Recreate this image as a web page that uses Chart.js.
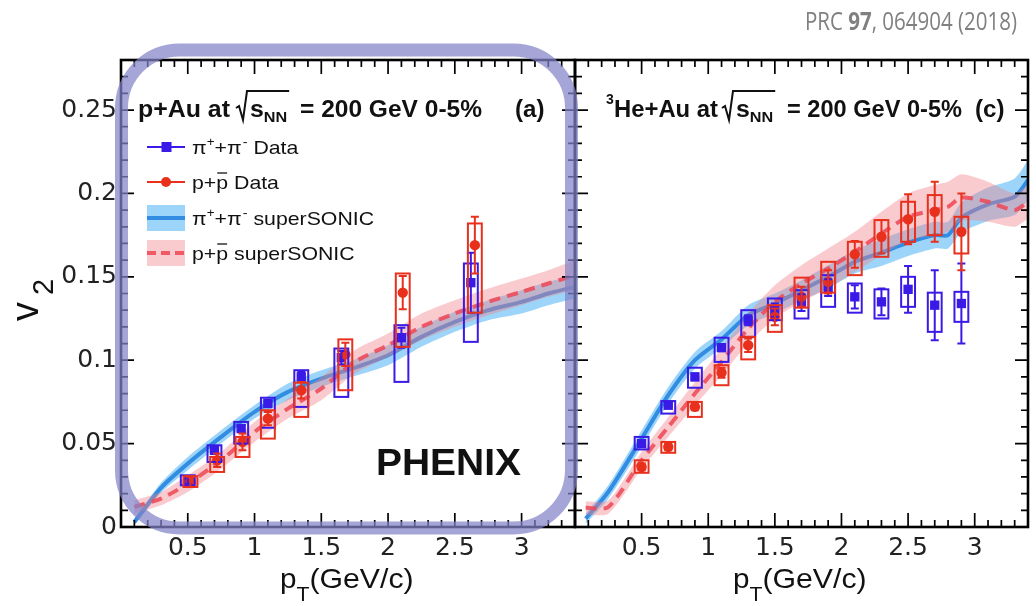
<!DOCTYPE html>
<html><head><meta charset="utf-8">
<script src="https://cdn.jsdelivr.net/npm/chart.js@4.4.1/dist/chart.umd.min.js"></script>
<style>
html,body{margin:0;padding:0;background:#fff;}
#wrap{position:relative;width:1036px;height:606px;background:#fff;overflow:hidden}
canvas{position:absolute;left:0;top:0}
</style></head><body>
<div id="wrap"><canvas id="cR" width="1036" height="606"></canvas><canvas id="cL" width="1036" height="606"></canvas></div>
<script>
// ---------- axis ticks ----------
const xTickVals = [0.5, 1, 1.5, 2, 2.5, 3];
const xTickLabels = ['0.5', '1', '1.5', '2', '2.5', '3'];
const yTickVals = [0, 0.05, 0.1, 0.15, 0.2, 0.25];
const yTickLabels = ['0', '0.05', '0.1', '0.15', '0.2', '0.25'];

// ---------- p+Au (a) data ----------
const pA_piX     = [0.50, 0.70, 0.90, 1.10, 1.35, 1.65, 2.10, 2.62];
const pA_piV     = [0.028, 0.046, 0.059, 0.074, 0.090, 0.1015, 0.1135, 0.1465];
const pA_piStat  = [0.002, 0.002, 0.002, 0.002, 0.003, 0.004, 0.006, 0.018];
const pA_piSysLo = [0.025, 0.039, 0.050, 0.0595, 0.072, 0.078, 0.087, 0.111];
const pA_piSysHi = [0.031, 0.049, 0.063, 0.0775, 0.094, 0.107, 0.121, 0.158];

const pA_pX      = [0.52, 0.72, 0.91, 1.10, 1.35, 1.68, 2.11, 2.65];
const pA_pV      = [0.027, 0.040, 0.051, 0.065, 0.082, 0.1035, 0.1405, 0.169];
const pA_pStat   = [0.003, 0.004, 0.005, 0.004, 0.005, 0.007, 0.010, 0.017];
const pA_pSysLo  = [0.024, 0.033, 0.042, 0.053, 0.066, 0.082, 0.108, 0.1285];
const pA_pSysHi  = [0.0305, 0.042, 0.054, 0.070, 0.0865, 0.1125, 0.152, 0.182];

// superSONIC (a)
const pA_modX    = [0.1, 0.3, 0.5, 0.75, 1.0, 1.25, 1.5, 1.75, 2.0, 2.25, 2.5, 2.75, 3.0, 3.2, 3.4];
const pA_piMod   = [0.003, 0.0235, 0.038, 0.054, 0.069, 0.081, 0.089, 0.0955, 0.103, 0.114, 0.123, 0.130, 0.135, 0.140, 0.144];
const pA_piHW    = [0.002, 0.003, 0.004, 0.004, 0.004, 0.005, 0.005, 0.005, 0.006, 0.006, 0.006, 0.006, 0.007, 0.007, 0.007];
const pA_pMod    = [0.012, 0.017, 0.026, 0.040, 0.057, 0.071, 0.083, 0.099, 0.109, 0.120, 0.128, 0.135, 0.141, 0.146, 0.151];
const pA_pHW     = [0.004, 0.004, 0.005, 0.005, 0.006, 0.006, 0.007, 0.007, 0.007, 0.008, 0.008, 0.008, 0.008, 0.008, 0.009];

// ---------- 3He+Au (c) data ----------
const hA_piX     = [0.5, 0.7, 0.9, 1.1, 1.3, 1.5, 1.7, 1.9, 2.1, 2.3, 2.5, 2.7, 2.9];
const hA_piV     = [0.050, 0.073, 0.090, 0.1075, 0.124, 0.130, 0.1345, 0.1435, 0.138, 0.135, 0.1425, 0.133, 0.134];
const hA_piStat  = [0.001, 0.001, 0.002, 0.002, 0.003, 0.004, 0.005, 0.005, 0.007, 0.008, 0.014, 0.021, 0.024];
const hA_piSysLo = [0.0465, 0.068, 0.0835, 0.099, 0.114, 0.124, 0.125, 0.132, 0.1285, 0.125, 0.132, 0.117, 0.123];
const hA_piSysHi = [0.054, 0.0755, 0.0955, 0.1135, 0.130, 0.137, 0.142, 0.151, 0.146, 0.1425, 0.150, 0.1405, 0.141];

const hA_pX      = [0.5, 0.7, 0.9, 1.1, 1.3, 1.5, 1.7, 1.9, 2.1, 2.3, 2.5, 2.7, 2.9];
const hA_pV      = [0.036, 0.048, 0.072, 0.0925, 0.109, 0.126, 0.138, 0.147, 0.1635, 0.174, 0.1845, 0.189, 0.177];
const hA_pStat   = [0.002, 0.002, 0.002, 0.003, 0.004, 0.005, 0.006, 0.007, 0.008, 0.010, 0.015, 0.018, 0.023];
const hA_pSysLo  = [0.0325, 0.0445, 0.066, 0.085, 0.1005, 0.117, 0.1315, 0.1405, 0.151, 0.162, 0.171, 0.175, 0.164];
const hA_pSysHi  = [0.040, 0.051, 0.075, 0.097, 0.114, 0.133, 0.1495, 0.159, 0.171, 0.184, 0.195, 0.199, 0.186];

// superSONIC (c)
const hA_modX    = [0.08, 0.25, 0.5, 0.7, 0.9, 1.1, 1.3, 1.5, 1.7, 1.9, 2.1, 2.3, 2.5, 2.7, 2.8, 2.9, 3.1, 3.3, 3.4];
const hA_piMod   = [0.005, 0.021, 0.053, 0.079, 0.100, 0.1125, 0.127, 0.134, 0.142, 0.150, 0.159, 0.1645, 0.1705, 0.175, 0.175, 0.1855, 0.1935, 0.198, 0.208];
const hA_piHW    = [0.003, 0.004, 0.005, 0.005, 0.005, 0.005, 0.006, 0.006, 0.006, 0.007, 0.007, 0.008, 0.008, 0.008, 0.008, 0.009, 0.010, 0.011, 0.012];
const hA_pMod    = [0.0115, 0.012, 0.040, 0.060, 0.080, 0.099, 0.119, 0.135, 0.146, 0.155, 0.165, 0.176, 0.186, 0.190, 0.192, 0.1975, 0.195, 0.190, 0.195];
const hA_pHW     = [0.004, 0.004, 0.005, 0.006, 0.007, 0.008, 0.009, 0.010, 0.011, 0.012, 0.012, 0.013, 0.014, 0.015, 0.015, 0.014, 0.012, 0.010, 0.010];

// ---------- styles ----------
const C_PI = '#3a1ae6', C_P = '#e8301c';
const C_PI_LINE = 'rgb(50,140,225)', C_PI_BAND = 'rgba(90,185,245,0.6)';
const C_P_LINE = 'rgba(238,70,85,0.85)', C_P_BAND = 'rgba(240,130,140,0.42)';
const SANS = '"Liberation Sans", Arial, Helvetica, sans-serif';

function pts(xs, ys) { return xs.map((x, i) => ({ x: x, y: ys[i] })); }

function T(ctx, s, x, y, size, o) {
  o = o || {};
  ctx.save();
  ctx.font = (o.bold ? 'bold ' : '') + size + 'px ' + (o.family || SANS);
  ctx.fillStyle = o.color || '#111';
  ctx.textBaseline = 'alphabetic'; ctx.textAlign = 'left';
  let sx = o.sx || 1;
  const w0 = ctx.measureText(s).width;
  if (o.fit) sx = o.fit / w0;
  ctx.translate(x, y); ctx.scale(sx, 1); ctx.fillText(s, 0, 0);
  ctx.restore();
  return x + w0 * sx;
}

function drawSeries(ctx, sx, sy, xs, ys, stat, lo, hi, color) {
  ctx.save();
  ctx.strokeStyle = color; ctx.lineWidth = 2;
  xs.forEach((x, i) => {
    const px = sx.getPixelForValue(x);
    const x0 = sx.getPixelForValue(x - 0.052), x1 = sx.getPixelForValue(x + 0.052);
    const yl = sy.getPixelForValue(lo[i]), yh = sy.getPixelForValue(hi[i]);
    ctx.strokeRect(x0, yh, x1 - x0, yl - yh);
    const e0 = sy.getPixelForValue(ys[i] - stat[i]), e1 = sy.getPixelForValue(ys[i] + stat[i]);
    ctx.beginPath();
    ctx.moveTo(px, e0); ctx.lineTo(px, e1);
    ctx.moveTo(px - 4, e0); ctx.lineTo(px + 4, e0);
    ctx.moveTo(px - 4, e1); ctx.lineTo(px + 4, e1);
    ctx.stroke();
  });
  ctx.restore();
}

function drawFrame(chart) {
  const ctx = chart.ctx, a = chart.chartArea, x = chart.scales.x, y = chart.scales.y;
  ctx.save();
  ctx.strokeStyle = '#000'; ctx.lineWidth = 1.7;
  ctx.beginPath();
  for (let k = 0; k <= 34; k++) {
    const px = x.getPixelForValue(k / 10);
    const L = (k % 5 === 0) ? 14 : 7;
    ctx.moveTo(px, a.bottom); ctx.lineTo(px, a.bottom - L);
    ctx.moveTo(px, a.top); ctx.lineTo(px, a.top + L);
  }
  for (let k = 0; k <= 28; k++) {
    const py = y.getPixelForValue(k / 100);
    const L = (k % 5 === 0) ? 13 : 7;
    ctx.moveTo(a.left, py); ctx.lineTo(a.left + L, py);
    ctx.moveTo(a.right, py); ctx.lineTo(a.right - L, py);
  }
  ctx.stroke();
  ctx.lineWidth = 2.6;
  ctx.strokeRect(a.left, a.top, a.right - a.left, a.bottom - a.top);
  ctx.restore();
}

function radical(ctx, x, base, endX) {
  ctx.save(); ctx.strokeStyle = '#111'; ctx.lineWidth = 2; ctx.lineJoin = 'miter';
  ctx.beginPath();
  ctx.moveTo(x, base - 9); ctx.lineTo(x + 3, base - 11);
  ctx.lineTo(x + 7, base + 3); ctx.lineTo(x + 11, base - 26); ctx.lineTo(endX, base - 26);
  ctx.stroke(); ctx.restore();
}

function panelLabel(ctx, L) {
  const base = 117, F = 23;
  T(ctx, L.prefix, L.px, base, F, { bold: 1, fit: L.pw });
  const s1 = T(ctx, 's', L.rx + 14, base, F, { bold: 1, sx: 1.08 });
  const nn = T(ctx, 'NN', s1, base + 5, 15, { bold: 1, sx: 1.08 });
  radical(ctx, L.rx, base, nn + 2);
  T(ctx, '= 200 GeV 0-5%', L.ex, base, F, { bold: 1, fit: L.ew });
  T(ctx, L.tag, L.tx, base, F, { bold: 1, sx: 1.05 });
}

function ySub(ctx) {
  ctx.save();
  ctx.translate(38, 321); ctx.rotate(-Math.PI / 2);
  ctx.fillStyle = '#111';
  ctx.font = '38px ' + SANS; ctx.fillText('v', 0, 0);
  ctx.font = '29px ' + SANS; ctx.fillText('2', 26, 15);
  ctx.restore();
}

function xTitle(ctx, x) {
  let xx = T(ctx, 'p', x, 588, 28, { sx: 1.06 });
  xx = T(ctx, 'T', xx, 601, 20, { sx: 1.06 });
  T(ctx, '(GeV/c)', xx, 588, 28, { sx: 1.08 });
}

function legendRows(ctx) {
  const x0 = 147, x1 = 185, tx = 192, S = 1.12, F = 19;
  const rows = [147, 182, 218, 253];
  ctx.save();
  ctx.strokeStyle = C_PI; ctx.lineWidth = 2;
  ctx.beginPath(); ctx.moveTo(x0, rows[0]); ctx.lineTo(x1, rows[0]); ctx.stroke();
  ctx.fillStyle = C_PI; ctx.fillRect(161.5, rows[0] - 5, 10, 10);
  ctx.strokeStyle = C_P;
  ctx.beginPath(); ctx.moveTo(x0, rows[1]); ctx.lineTo(x1, rows[1]); ctx.stroke();
  ctx.fillStyle = C_P; ctx.beginPath(); ctx.arc(166, rows[1], 5, 0, 2 * Math.PI); ctx.fill();
  ctx.fillStyle = C_PI_BAND; ctx.fillRect(x0, rows[2] - 13, x1 - x0, 26);
  ctx.strokeStyle = C_PI_LINE; ctx.lineWidth = 4;
  ctx.beginPath(); ctx.moveTo(x0, rows[2]); ctx.lineTo(x1, rows[2]); ctx.stroke();
  ctx.fillStyle = C_P_BAND; ctx.fillRect(x0, rows[3] - 13, x1 - x0, 26);
  ctx.strokeStyle = C_P_LINE; ctx.lineWidth = 4; ctx.setLineDash([9, 5]);
  ctx.beginPath(); ctx.moveTo(x0, rows[3]); ctx.lineTo(x1 + 1, rows[3]); ctx.stroke();
  ctx.restore();

  const piRuns = (b, tail) => {
    let xx = T(ctx, 'π', tx, b, F, { sx: S });
    xx = T(ctx, '+', xx, b - 8, 12, { sx: S });
    xx = T(ctx, '+π', xx, b, F, { sx: S });
    xx = T(ctx, '-', xx + 1, b - 8, 13, { sx: S });
    T(ctx, tail, xx, b, F, { sx: S });
  };
  const pRuns = (b, tail) => {
    let xx = T(ctx, 'p+', tx, b, F, { sx: S });
    const pb = xx;
    xx = T(ctx, 'p', xx, b, F, { sx: S });
    ctx.save(); ctx.strokeStyle = '#111'; ctx.lineWidth = 1.3;
    ctx.beginPath(); ctx.moveTo(pb + 1, b - 16); ctx.lineTo(xx - 1, b - 16); ctx.stroke(); ctx.restore();
    T(ctx, tail, xx, b, F, { sx: S });
  };
  piRuns(rows[0] + 7, ' Data');
  pRuns(rows[1] + 7, ' Data');
  piRuns(rows[2] + 7, ' superSONIC');
  pRuns(rows[3] + 7, ' superSONIC');
}

function prcText(ctx) {
  const F = '"Open Sans", "Liberation Sans", sans-serif';
  ctx.save();
  ctx.fillStyle = '#808080'; ctx.textBaseline = 'alphabetic';
  const parts = [['PRC ', ''], ['97', 'bold '], [', 064904 (2018)', '']];
  let w = 0;
  parts.forEach(p => { ctx.font = p[1] + '25px ' + F; w += ctx.measureText(p[0]).width; });
  const target = 212, sx = target / w;
  ctx.translate(1017 - target, 30); ctx.scale(sx, 1);
  let x = 0;
  parts.forEach(p => { ctx.font = p[1] + '25px ' + F; ctx.fillText(p[0], x, 0); x += ctx.measureText(p[0]).width; });
  ctx.restore();
}

function makeChart(id, P, isLeft) {
  const datasets = [];
  datasets.push({ data: pts(P.modX, P.piMod.map((v, i) => v - P.piHW[i])), borderWidth: 0, pointRadius: 0, fill: false, order: 10, tension: 0.25 });
  datasets.push({ data: pts(P.modX, P.piMod.map((v, i) => v + P.piHW[i])), borderWidth: 0, pointRadius: 0, fill: '-1', backgroundColor: C_PI_BAND, order: 10, tension: 0.25 });
  datasets.push({ data: pts(P.modX, P.piMod), borderColor: C_PI_LINE, borderWidth: 4, pointRadius: 0, fill: false, order: 8, tension: 0.25 });
  datasets.push({ data: pts(P.modX, P.pMod.map((v, i) => v - P.pHW[i])), borderWidth: 0, pointRadius: 0, fill: false, order: 6, tension: 0.25 });
  datasets.push({ data: pts(P.modX, P.pMod.map((v, i) => v + P.pHW[i])), borderWidth: 0, pointRadius: 0, fill: '-1', backgroundColor: C_P_BAND, order: 6, tension: 0.25 });
  datasets.push({ data: pts(P.modX, P.pMod), borderColor: C_P_LINE, borderWidth: 4, borderDash: [11, 7], pointRadius: 0, fill: false, order: 4, tension: 0.25 });
  datasets.push({ data: pts(P.piX, P.piV), showLine: false, pointStyle: 'rect', pointRadius: 6.6, pointBackgroundColor: C_PI, pointBorderWidth: 0, order: 1 });
  datasets.push({ data: pts(P.pX, P.pV), showLine: false, pointStyle: 'circle', pointRadius: 5.2, pointBackgroundColor: C_P, pointBorderWidth: 0, order: 0 });

  const tickFont = { family: '"DejaVu Sans", sans-serif', size: 25 };
  return new Chart(document.getElementById(id), {
    type: 'line',
    data: { datasets: datasets },
    options: {
      responsive: false, animation: false, devicePixelRatio: 1,
      layout: { padding: isLeft ? { left: 0, top: 60, right: 461, bottom: 0 } : { left: 575, top: 60, right: 8, bottom: 0 } },
      plugins: { legend: { display: false }, tooltip: { enabled: false } },
      scales: {
        x: {
          type: 'linear', min: 0, max: 3.4,
          grid: { display: false, drawTicks: false }, border: { display: false },
          afterBuildTicks: s => { s.ticks = xTickVals.map(v => ({ value: v })); },
          afterFit: s => { s.height = 79; },
          ticks: { font: tickFont, color: '#222', padding: 6, maxRotation: 0, autoSkip: false,
                   callback: (v, i) => xTickLabels[i] }
        },
        y: {
          type: 'linear', min: 0, max: 0.28, display: isLeft,
          grid: { display: false, drawTicks: false }, border: { display: false },
          afterBuildTicks: s => { s.ticks = yTickVals.map(v => ({ value: v })); },
          afterFit: s => { if (isLeft) s.width = 121; },
          ticks: { font: tickFont, color: '#222', padding: 4, callback: (v, i) => yTickLabels[i] }
        }
      }
    },
    plugins: [{
      id: 'deco' + id,
      afterDatasetsDraw(chart) {
        const ctx = chart.ctx, sx = chart.scales.x, sy = chart.scales.y;
        ctx.save();
        ctx.beginPath();
        const a = chart.chartArea;
        ctx.rect(a.left, a.top, a.right - a.left, a.bottom - a.top); ctx.clip();
        drawSeries(ctx, sx, sy, P.piX, P.piV, P.piStat, P.piSysLo, P.piSysHi, C_PI);
        drawSeries(ctx, sx, sy, P.pX, P.pV, P.pStat, P.pSysLo, P.pSysHi, C_P);
        ctx.restore();
      },
      afterDraw(chart) {
        const ctx = chart.ctx;
        drawFrame(chart);
        if (isLeft) {
          panelLabel(ctx, { prefix: 'p+Au at', px: 138, pw: 92, rx: 236, ex: 300, ew: 182, tx: 515, tag: '(a)' });
          legendRows(ctx);
          T(ctx, 'PHENIX', 376, 475, 37, { bold: 1, fit: 145 });
          ySub(ctx);
          xTitle(ctx, 280);
          ctx.save();
          ctx.strokeStyle = 'rgba(130,130,200,0.72)'; ctx.lineWidth = 13;
          ctx.beginPath(); ctx.roundRect(121.5, 50, 450, 478, 58); ctx.stroke();
          ctx.restore();
          prcText(ctx);
        } else {
          T(ctx, '3', 606, 104, 14, { bold: 1 });
          panelLabel(ctx, { prefix: 'He+Au at', px: 614, pw: 104, rx: 722, ex: 787, ew: 175, tx: 975, tag: '(c)' });
          xTitle(ctx, 733);
        }
      }
    }]
  });
}

const panelA = { modX: pA_modX, piMod: pA_piMod, piHW: pA_piHW, pMod: pA_pMod, pHW: pA_pHW,
  piX: pA_piX, piV: pA_piV, piStat: pA_piStat, piSysLo: pA_piSysLo, piSysHi: pA_piSysHi,
  pX: pA_pX, pV: pA_pV, pStat: pA_pStat, pSysLo: pA_pSysLo, pSysHi: pA_pSysHi };
const panelC = { modX: hA_modX, piMod: hA_piMod, piHW: hA_piHW, pMod: hA_pMod, pHW: hA_pHW,
  piX: hA_piX, piV: hA_piV, piStat: hA_piStat, piSysLo: hA_piSysLo, piSysHi: hA_piSysHi,
  pX: hA_pX, pV: hA_pV, pStat: hA_pStat, pSysLo: hA_pSysLo, pSysHi: hA_pSysHi };

makeChart('cR', panelC, false);
makeChart('cL', panelA, true);
</script></body></html>
